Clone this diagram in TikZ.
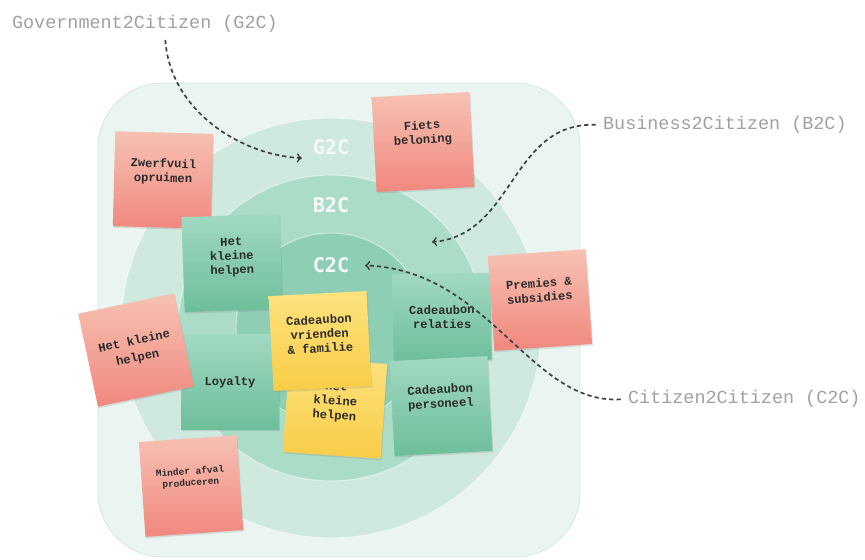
\documentclass[tikz,border=0pt]{standalone}
\usepackage{fontspec}
\usepackage{tikz}
\usetikzlibrary{calc,shadows}

\newfontfamily\notefont{Liberation Mono}
\newfontfamily\sidefont{Liberation Mono}
\newfontfamily\ringfont{DejaVu Sans Mono}

\definecolor{boxfill}{HTML}{EAF5F1}
\definecolor{boxline}{HTML}{D0E8DF}
\definecolor{g2cfill}{HTML}{CFE9DF}
\definecolor{b2cfill}{HTML}{ABDCC8}
\definecolor{c2cfill}{HTML}{8DCEB5}
\definecolor{pinktop}{HTML}{F6C2B3}
\definecolor{pinkbot}{HTML}{F1887E}
\definecolor{greentop}{HTML}{A2D9C2}
\definecolor{greenbot}{HTML}{6DBE9B}
\definecolor{yellowtop}{HTML}{FDE27E}
\definecolor{yellowbot}{HTML}{F8CD47}
\definecolor{notetext}{HTML}{2A2A2A}
\definecolor{sidetext}{HTML}{A0A0A0}
\definecolor{linkline}{HTML}{3E3E3E}

\tikzset{
	ring/.style={circle, inner sep=0pt, draw=white, draw opacity=0.5, line width=0.6pt},
	ringlabel/.style={inner sep=2pt, text=white, font=\ringfont\bfseries\fontsize{11.5}{12}\selectfont},
	note/.style={minimum width=1.96cm, minimum height=1.9cm, inner sep=1pt, align=center,
		text=notetext, font=\notefont\bfseries\fontsize{6.9}{8.1}\selectfont,
		drop shadow={shadow xshift=0.5pt, shadow yshift=-0.9pt, opacity=0.22}},
	pinknote/.style={note, top color=pinktop, bottom color=pinkbot},
	greennote/.style={note, top color=greentop, bottom color=greenbot},
	yellownote/.style={note, top color=yellowtop, bottom color=yellowbot},
	sidelabel/.style={anchor=west, inner sep=1pt, text=sidetext, font=\sidefont\fontsize{10.5}{12}\selectfont},
	link/.style={draw=linkline, line width=0.95pt, dash pattern=on 2.4pt off 1.8pt, ->, shorten <=3pt}
}

\begin{document}
\begin{tikzpicture}[x=0.02cm,y=-0.02cm]
\useasboundingbox (0,0) rectangle (865,560);

% achtergrond
\draw[draw=boxline, fill=boxfill, rounded corners=1.3cm] (98,83) rectangle (580,557);

% cirkels
\foreach \name/\d/\col in {g2c/8.4/g2cfill,b2c/6.12/b2cfill,c2c/3.8/c2cfill}{
	\node[ring, fill=\col, minimum size=\d cm] (\name ring) at (331,328) {};
}

\node[ringlabel, text opacity=0.75] (G2C) at (331,147) {G2C};
\node[ringlabel, text opacity=0.9] (B2C) at (331,205) {B2C};
\node[ringlabel, text opacity=0.9] (C2C) at (331,265) {C2C};

% notities
\node[pinknote, rotate=-1.5] (zwerfvuil) at (163,180) {Zwerfvuil\\opruimen\\[3pt]};
\node[pinknote, rotate=3] (fiets) at (423,142) {Fiets\\beloning\\[3pt]};
\node[greennote, rotate=2] (helpenB) at (232,263) {Het\\kleine\\helpen\\[0pt]};
\node[greennote] (loyalty) at (230,382) {Loyalty};
\node[pinknote, rotate=12] (helpenG) at (136,350) {Het kleine\\[1.5pt]helpen};
\node[yellownote, rotate=-4] (helpenC) at (335,408) {Het\\kleine\\helpen\\[0pt]};
\node[yellownote, rotate=3] (vrienden) at (320,341) {Cadeaubon\\vrienden\\\& familie\\[0pt]};
\node[greennote, rotate=1, minimum height=1.74cm] (relaties) at (442,317) {Cadeaubon\\relaties};
\node[greennote, rotate=3] (personeel) at (441,406) {Cadeaubon\\personeel\\[3pt]};
\node[pinknote, rotate=4] (premies) at (540,300) {Premies \&\\subsidies\\[3pt]};
\node[pinknote, rotate=4, font=\notefont\bfseries\fontsize{5.4}{6.6}\selectfont] (minder) at (191,486) {Minder afval\\produceren\\[4pt]};

% labels buiten
\node[sidelabel] (gov) at (10,24) {Government2Citizen (G2C)};
\node[sidelabel] (bus) at (601,125) {Business2Citizen (B2C)};
\node[sidelabel] (cit) at (626,399) {Citizen2Citizen (C2C)};

% pijlen
\coordinate (b2ctip) at (432,242);
\draw[link, shorten >=4pt] ([xshift=0.4cm]gov.south) .. controls (170,110) and (240,155) .. (G2C.south west);
\draw[link] (bus.west) .. controls (510,122) and (515,235) .. (b2ctip);
\draw[link, shorten >=6.8pt] (cit.west) .. controls (530,405) and (490,270) .. (C2C.east);

\end{tikzpicture}
\end{document}
